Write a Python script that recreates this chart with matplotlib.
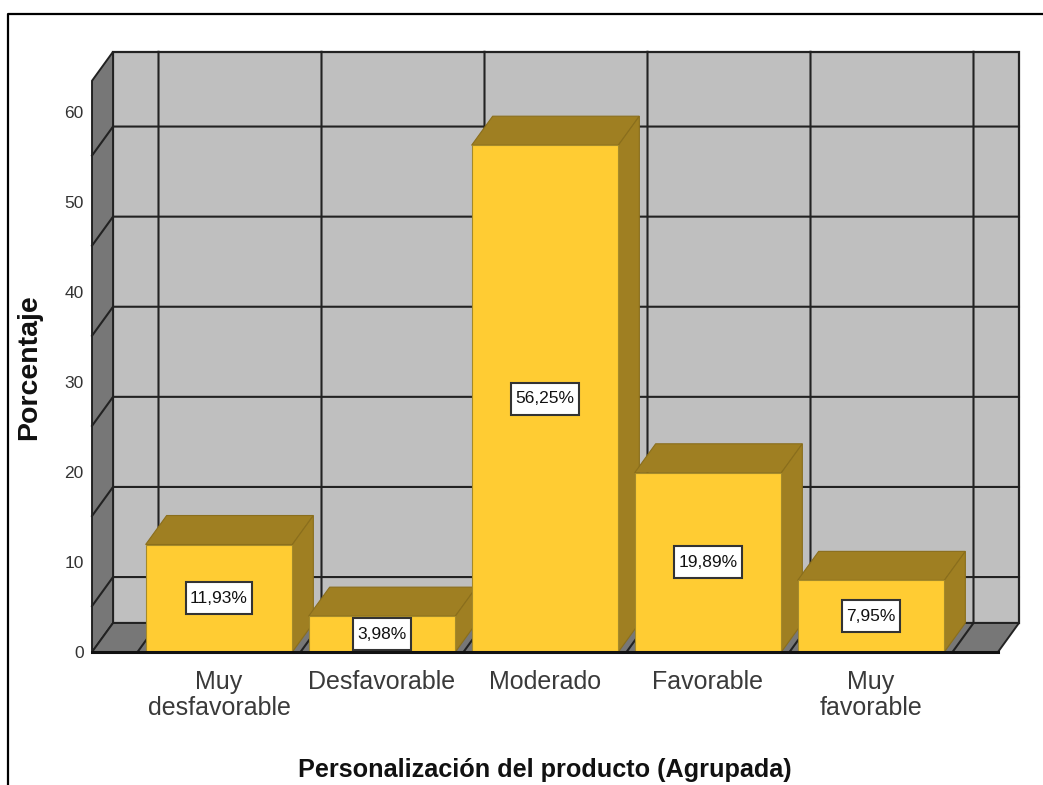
import matplotlib
matplotlib.use("Agg")
import matplotlib.pyplot as plt
from matplotlib.patches import Polygon, Rectangle

categories = ["Muy\ndesfavorable", "Desfavorable", "Moderado", "Favorable", "Muy\nfavorable"]
values = [11.93, 3.98, 56.25, 19.89, 7.95]
value_labels = ["11,93%", "3,98%", "56,25%", "19,89%", "7,95%"]
y_ticks = [0, 10, 20, 30, 40, 50, 60]
grid_values = [5.1, 15.1, 25.1, 35.1, 45.1, 55.1]

plt.rcParams["font.family"] = ["Liberation Sans", "DejaVu Sans"]

W, H = 1043, 785
PX_X = 163.0   # pixels per category
PX_Y = 9.01    # pixels per percent
DX = 21 / PX_X   # depth of the fake 3d box
DY = 29 / PX_Y
BAR_W = 0.9
X_LEFT = -0.779   # front left corner of the floor
X_RIGHT = 4.779
Y_TOP = 63.4

WALL = "#bfbfbf"
SIDE = "#777777"
LINE = "#222222"
BAR = "#ffcc33"
BAR_DARK = "#9f7f22"

fig = plt.figure(figsize=(W / 100, H / 100), dpi=100)
ax = fig.add_axes([0, 0, 1, 1])
ax.set_xlim(-219 / PX_X, (W - 219) / PX_X)
ax.set_ylim(-(H - 652) / PX_Y, 652 / PX_Y)
ax.axis("off")

# outer frame of the picture, open on the right
x_min, x_max = ax.get_xlim()
y_min, y_max = ax.get_ylim()
frame_x = x_min + 8 / PX_X
frame_y = y_max - 14 / PX_Y
ax.plot([frame_x, frame_x, x_max], [y_min, frame_y, frame_y], color="black", lw=1.6, clip_on=False)

# back wall, left wall, floor
ax.add_patch(Polygon([(X_LEFT + DX, DY), (X_RIGHT + DX, DY), (X_RIGHT + DX, DY + Y_TOP), (X_LEFT + DX, DY + Y_TOP)],
                     fc=WALL, ec=LINE, lw=1.6, zorder=1))
ax.add_patch(Polygon([(X_LEFT, 0), (X_LEFT + DX, DY), (X_LEFT + DX, DY + Y_TOP), (X_LEFT, Y_TOP)],
                     fc=SIDE, ec=LINE, lw=1.4, zorder=1))
ax.add_patch(Polygon([(X_LEFT, 0), (X_RIGHT, 0), (X_RIGHT + DX, DY), (X_LEFT + DX, DY)],
                     fc=SIDE, ec=LINE, lw=1.4, zorder=1))

# grid on the walls
for g in grid_values:
    ax.plot([X_LEFT, X_LEFT + DX, X_RIGHT + DX], [g, g + DY, g + DY], color=LINE, lw=1.5, zorder=2)
for i in range(len(categories) + 1):
    x = i - 0.5
    ax.plot([x, x + DX, x + DX], [0, DY, DY + Y_TOP], color=LINE, lw=1.5, zorder=2)

# bars
labels = []
for i, v in enumerate(values):
    l, r = i - BAR_W / 2, i + BAR_W / 2
    ax.add_patch(Polygon([(l, v), (r, v), (r + DX, v + DY), (l + DX, v + DY)],
                         fc=BAR_DARK, ec="#8a6e1c", lw=0.8, zorder=3))
    ax.add_patch(Polygon([(r, 0), (r + DX, DY), (r + DX, v + DY), (r, v)],
                         fc=BAR_DARK, ec="#8a6e1c", lw=0.8, zorder=3))
    ax.add_patch(Rectangle((l, 0), BAR_W, v, fc=BAR, ec="#a58a2a", lw=0.8, zorder=4))
    labels.append(ax.text(i, v / 2, value_labels[i], ha="center", va="center", fontsize=12.5,
                          color="#111111", zorder=6))
    ax.text(i, -1.95, categories[i], ha="center", va="top", fontsize=18, color="#3a3a3a",
            linespacing=1.12, zorder=5)

# white boxes behind the value labels, sized from the text itself
fig.canvas.draw()
renderer = fig.canvas.get_renderer()
for i, t in enumerate(labels):
    bb = t.get_window_extent(renderer)
    half_w = (bb.width / 2 + 4.5) / PX_X
    half_h = 16 / PX_Y
    ax.add_patch(Rectangle((i - half_w, values[i] / 2 - half_h), 2 * half_w, 2 * half_h,
                           fc="white", ec="#333333", lw=1.5, zorder=5))

ax.plot([X_LEFT, X_RIGHT], [0, 0], color="#111111", lw=2.2, zorder=7)

# axis text
for t in y_ticks:
    ax.text(X_LEFT - 0.05, t - 0.2, str(t), ha="right", va="center", fontsize=12.5, color="#333333")
ax.text(x_min + 29 / PX_X, y_max - 367 / PX_Y, "Porcentaje", rotation=90,
        ha="center", va="center", fontsize=20.5, fontweight="bold", color="#111111")
ax.text((545 - 219) / PX_X, -(770 - 652) / PX_Y, "Personalización del producto (Agrupada)",
        ha="center", va="center", fontsize=18.2, fontweight="bold", color="#111111")

fig.savefig("out.png", dpi=100)
